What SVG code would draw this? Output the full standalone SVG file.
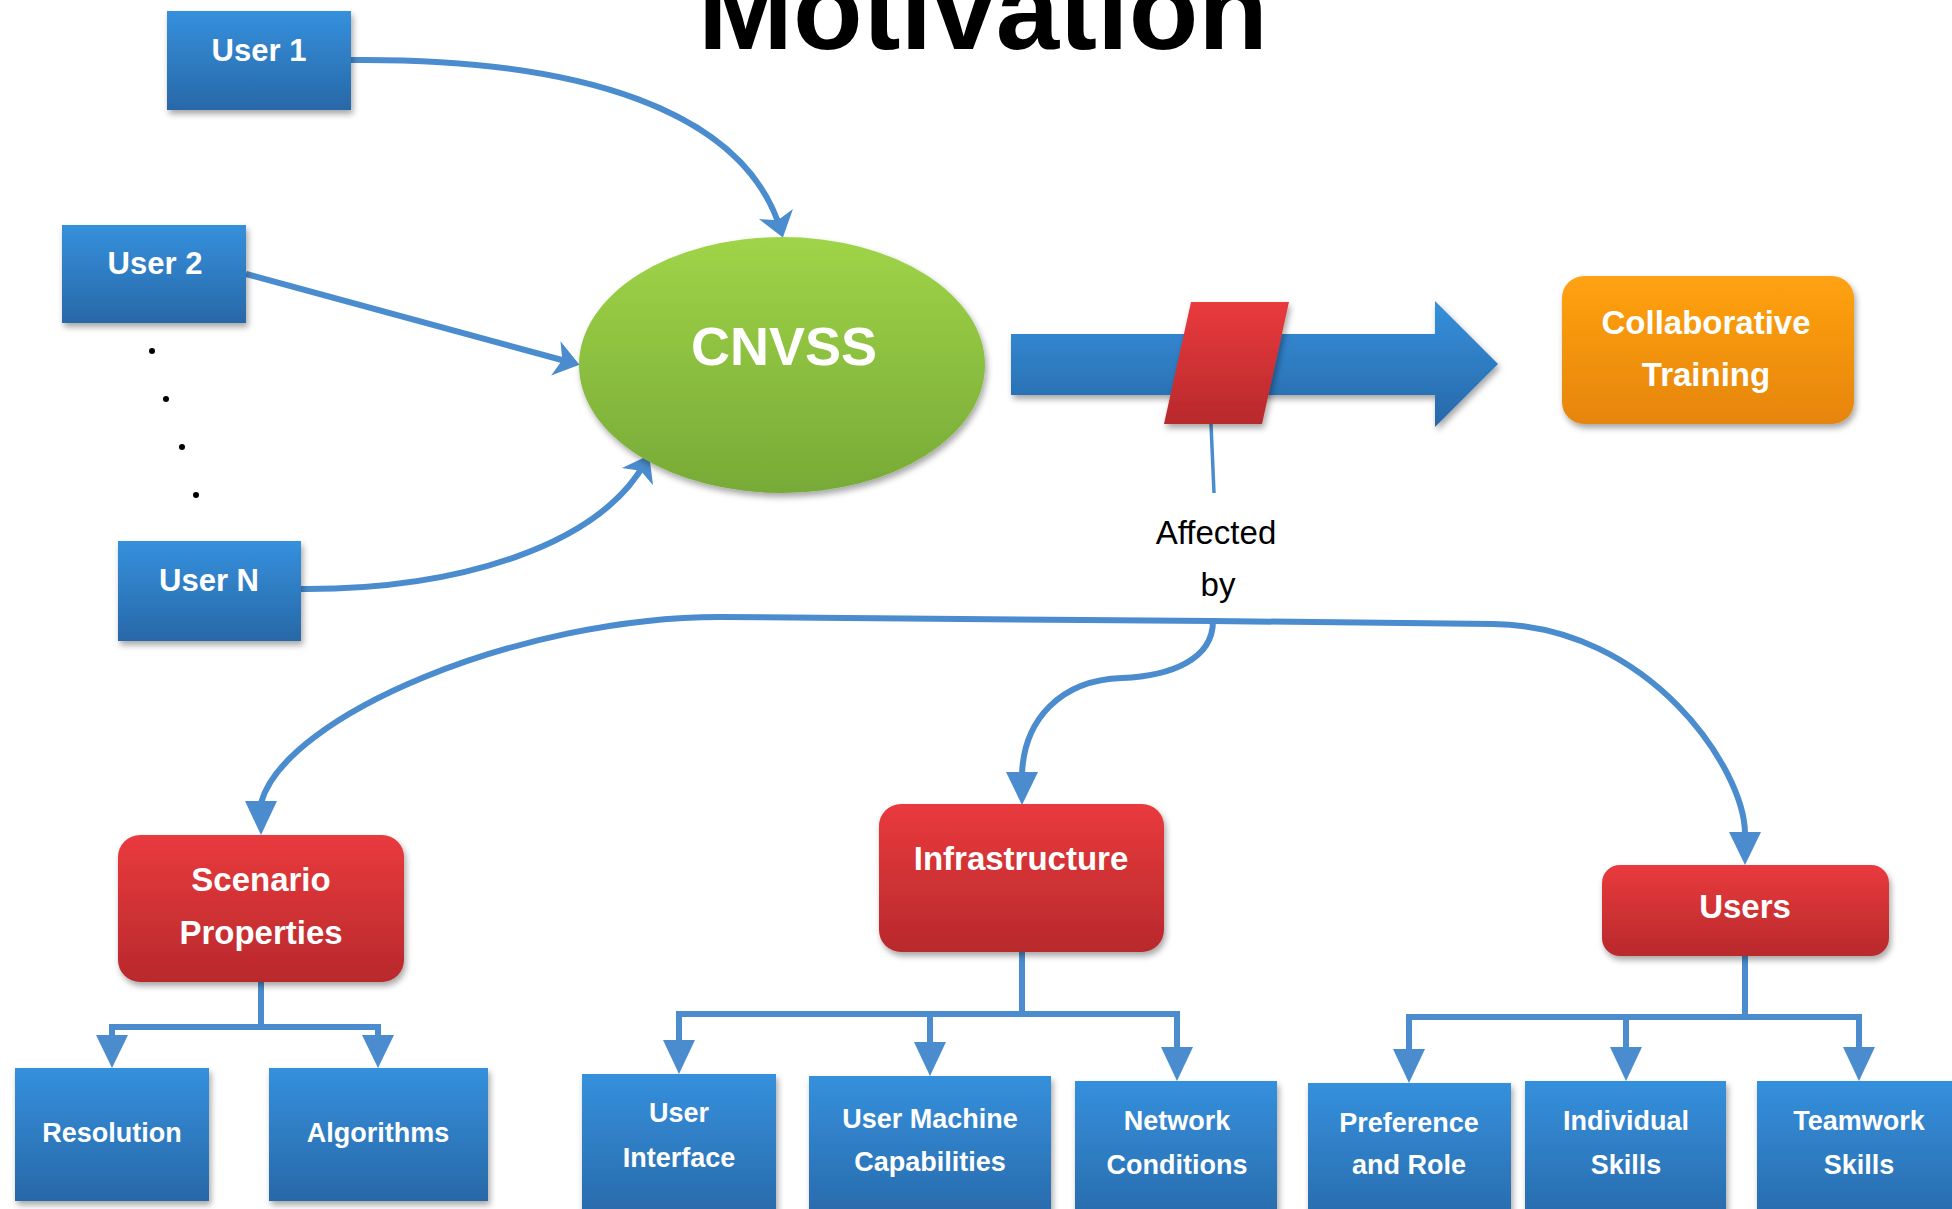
<svg xmlns="http://www.w3.org/2000/svg" width="1952" height="1209" viewBox="0 0 1952 1209">
<style>
  .lbl { font-family: "Liberation Sans", Arial, sans-serif; font-weight: bold; fill: #ffffff; text-anchor: middle; }
  .blue { fill: url(#gBlue); filter: url(#sh); }
  .red { fill: url(#gRed); filter: url(#sh); }
  .con { fill: none; stroke: #4a8ccd; stroke-width: 6; }
  .ah { fill: #4a8ccd; }
  .dot { fill: #000000; }
</style>
<defs>
  <linearGradient id="gBlue" x1="0" y1="0" x2="0" y2="1">
    <stop offset="0" stop-color="#3590dc"/>
    <stop offset="1" stop-color="#2868a8"/>
  </linearGradient>
  <linearGradient id="gRed" x1="0" y1="0" x2="0" y2="1">
    <stop offset="0" stop-color="#e93a3d"/>
    <stop offset="1" stop-color="#b8292c"/>
  </linearGradient>
  <linearGradient id="gOrange" x1="0" y1="0" x2="0" y2="1">
    <stop offset="0" stop-color="#ffa212"/>
    <stop offset="1" stop-color="#e6850c"/>
  </linearGradient>
  <linearGradient id="gGreen" x1="0" y1="0" x2="0" y2="1">
    <stop offset="0" stop-color="#a0d448"/>
    <stop offset="1" stop-color="#77aa37"/>
  </linearGradient>
  <filter id="sh" x="-10%" y="-10%" width="120%" height="130%">
    <feDropShadow dx="2" dy="4" stdDeviation="3" flood-color="#000" flood-opacity="0.35"/>
  </filter>
  <marker id="stealth" markerUnits="userSpaceOnUse" markerWidth="30" markerHeight="40" viewBox="0 -18 24 36" refX="16" refY="0" orient="auto">
    <path d="M0,-16 L22,0 L0,16 L6,0 z" fill="#4a8ccd"/>
  </marker>
</defs>

<rect width="1952" height="1209" fill="#ffffff"/>

<text x="983" y="49" font-family="'Liberation Sans', Arial, sans-serif" font-weight="bold" font-size="114" text-anchor="middle" fill="#000">Motivation</text>

<g id="connectors">
  <path class="con" d="M351,60 C580,58 745,110 781,231" marker-end="url(#stealth)"/>
  <path class="con" d="M246,274 L573,363" marker-end="url(#stealth)"/>
  <path class="con" d="M301,589 C460,590 600,545 646,461" marker-end="url(#stealth)"/>

  <path d="M1211,424 L1214,493" fill="none" stroke="#4a8ccd" stroke-width="3.5"/>

  <path class="con" d="M1213,621 L720,617 C520,617 285,715 261,803"/>
  <polygon class="ah" points="245,801 277,801 261,835"/>
  <path class="con" d="M1213,621 L1493,624 C1650,626 1745,770 1745,834"/>
  <polygon class="ah" points="1729,832 1761,832 1745,865"/>
  <path class="con" d="M1213,621 C1213,660 1170,676 1122,678 C1060,680 1024,720 1022,774"/>
  <polygon class="ah" points="1006,772 1038,772 1022,805"/>

  <path class="con" d="M261,982 L261,1027 M109,1027 L381,1027 M112,1024 L112,1037 M378,1024 L378,1037"/>
  <polygon class="ah" points="96,1035 128,1035 112,1068"/>
  <polygon class="ah" points="362,1035 394,1035 378,1068"/>

  <path class="con" d="M1022,952 L1022,1014 M676,1014 L1180,1014 M679,1011 L679,1042 M930,1014 L930,1044 M1177,1011 L1177,1049"/>
  <polygon class="ah" points="663,1040 695,1040 679,1074"/>
  <polygon class="ah" points="914,1042 946,1042 930,1076"/>
  <polygon class="ah" points="1161,1047 1193,1047 1177,1081"/>

  <path class="con" d="M1745,956 L1745,1017 M1406,1017 L1862,1017 M1409,1014 L1409,1051 M1626,1017 L1626,1049 M1859,1014 L1859,1049"/>
  <polygon class="ah" points="1393,1049 1425,1049 1409,1083"/>
  <polygon class="ah" points="1610,1047 1642,1047 1626,1081"/>
  <polygon class="ah" points="1843,1047 1875,1047 1859,1081"/>
</g>

<g id="dots">
  <circle class="dot" cx="152" cy="351" r="3"/>
  <circle class="dot" cx="166" cy="399" r="3"/>
  <circle class="dot" cx="182" cy="447" r="3"/>
  <circle class="dot" cx="196" cy="495" r="3"/>
</g>

<g id="user1">
  <rect class="blue" x="167" y="11" width="184" height="99"/>
  <text class="lbl" x="259" y="61" font-size="31">User 1</text>
</g>
<g id="user2">
  <rect class="blue" x="62" y="225" width="184" height="98"/>
  <text class="lbl" x="155" y="274" font-size="31">User 2</text>
</g>
<g id="userN">
  <rect class="blue" x="118" y="541" width="183" height="100"/>
  <text class="lbl" x="209" y="591" font-size="31">User N</text>
</g>

<g id="cnvss">
  <ellipse cx="782" cy="365" rx="203" ry="128" fill="url(#gGreen)" filter="url(#sh)"/>
  <text class="lbl" x="784" y="365" font-size="54">CNVSS</text>
</g>

<g id="bigArrow">
  <polygon points="1011,334 1435,334 1435,301 1498,364 1435,427 1435,395 1011,395" fill="url(#gBlue)" filter="url(#sh)"/>
</g>

<g id="barrier">
  <polygon points="1191,302 1289,302 1262,424 1164,424" fill="url(#gRed)" filter="url(#sh)"/>
</g>

<g id="affectedBy">
  <text x="1216" y="544" font-family="'Liberation Sans', Arial, sans-serif" font-size="33" text-anchor="middle" fill="#000">Affected</text>
  <text x="1218" y="596" font-family="'Liberation Sans', Arial, sans-serif" font-size="33" text-anchor="middle" fill="#000">by</text>
</g>

<g id="collab">
  <rect x="1562" y="276" width="292" height="148" rx="22" fill="url(#gOrange)" filter="url(#sh)"/>
  <text class="lbl" x="1706" y="334" font-size="33">Collaborative</text>
  <text class="lbl" x="1706" y="386" font-size="33">Training</text>
</g>

<g id="scenario">
  <rect class="red" x="118" y="835" width="286" height="147" rx="22"/>
  <text class="lbl" x="261" y="891" font-size="33">Scenario</text>
  <text class="lbl" x="261" y="944" font-size="33">Properties</text>
</g>
<g id="infrastructure">
  <rect class="red" x="879" y="804" width="285" height="148" rx="22"/>
  <text class="lbl" x="1021" y="870" font-size="33">Infrastructure</text>
</g>
<g id="users">
  <rect class="red" x="1602" y="865" width="287" height="91" rx="18"/>
  <text class="lbl" x="1745" y="918" font-size="33">Users</text>
</g>

<g id="resolution">
  <rect class="blue" x="15" y="1068" width="194" height="133"/>
  <text class="lbl" x="112" y="1142" font-size="27">Resolution</text>
</g>
<g id="algorithms">
  <rect class="blue" x="269" y="1068" width="219" height="133"/>
  <text class="lbl" x="378" y="1142" font-size="27">Algorithms</text>
</g>
<g id="userInterface">
  <rect class="blue" x="582" y="1074" width="194" height="150"/>
  <text class="lbl" x="679" y="1122" font-size="27">User</text>
  <text class="lbl" x="679" y="1167" font-size="27">Interface</text>
</g>
<g id="userMachine">
  <rect class="blue" x="809" y="1076" width="242" height="150"/>
  <text class="lbl" x="930" y="1128" font-size="27">User Machine</text>
  <text class="lbl" x="930" y="1171" font-size="27">Capabilities</text>
</g>
<g id="network">
  <rect class="blue" x="1075" y="1081" width="202" height="150"/>
  <text class="lbl" x="1177" y="1130" font-size="27">Network</text>
  <text class="lbl" x="1177" y="1174" font-size="27">Conditions</text>
</g>
<g id="preference">
  <rect class="blue" x="1308" y="1083" width="203" height="150"/>
  <text class="lbl" x="1409" y="1132" font-size="27">Preference</text>
  <text class="lbl" x="1409" y="1174" font-size="27">and Role</text>
</g>
<g id="individual">
  <rect class="blue" x="1525" y="1081" width="201" height="150"/>
  <text class="lbl" x="1626" y="1130" font-size="27">Individual</text>
  <text class="lbl" x="1626" y="1174" font-size="27">Skills</text>
</g>
<g id="teamwork">
  <rect class="blue" x="1757" y="1081" width="210" height="150"/>
  <text class="lbl" x="1859" y="1130" font-size="27">Teamwork</text>
  <text class="lbl" x="1859" y="1174" font-size="27">Skills</text>
</g>
</svg>
